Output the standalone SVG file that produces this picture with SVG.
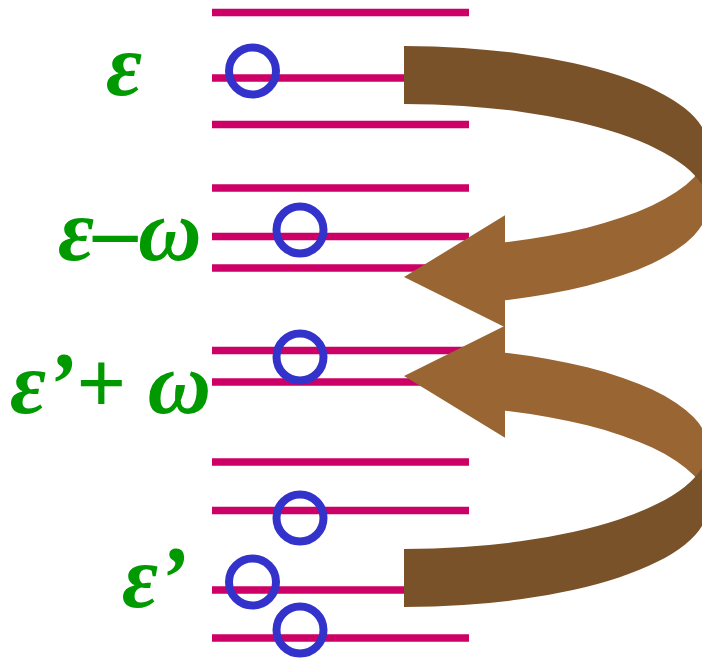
<svg xmlns="http://www.w3.org/2000/svg" width="702" height="659" viewBox="0 0 702 659">
<style>
.lvl{stroke:#CC0066;stroke-width:7.5;fill:none}
.el{fill:none;stroke:#3333CC;stroke-width:8}
.lbl{font-family:"Liberation Serif","Times New Roman",serif;font-style:italic;font-weight:bold;font-size:88px;fill:#009900}
.lt{fill:#996633}
.dk{fill:#7A5229}
</style>
<defs>
<g id="curved">
<path class="lt" d="M404,277 L505,215.3 L505,242.3 A304 101 0 0 0 708,147 L708,205 A304 101 0 0 1 505,300.3 L505,327.3 Z"/>
<path class="dk" d="M708,205 A304 101 0 0 0 404,104 L404,46 A304 101 0 0 1 708,147 Z"/>
</g>
</defs>
<g id="levels">
<line class="lvl" x1="212" y1="12.5" x2="469" y2="12.5"/>
<line class="lvl" x1="212" y1="78" x2="469" y2="78"/>
<line class="lvl" x1="212" y1="124.5" x2="469" y2="124.5"/>
<line class="lvl" x1="212" y1="188" x2="469" y2="188"/>
<line class="lvl" x1="212" y1="236.5" x2="469" y2="236.5"/>
<line class="lvl" x1="212" y1="268" x2="469" y2="268"/>
<line class="lvl" x1="212" y1="350.5" x2="469" y2="350.5"/>
<line class="lvl" x1="212" y1="382" x2="469" y2="382"/>
<line class="lvl" x1="212" y1="462" x2="469" y2="462"/>
<line class="lvl" x1="212" y1="510.5" x2="469" y2="510.5"/>
<line class="lvl" x1="212" y1="590" x2="469" y2="590"/>
<line class="lvl" x1="212" y1="638" x2="469" y2="638"/>
</g>
<g id="electrons">
<circle class="el" cx="252.5" cy="71" r="23.5"/>
<circle class="el" cx="300" cy="230" r="23.5"/>
<circle class="el" cx="300" cy="357" r="23.5"/>
<circle class="el" cx="300" cy="518" r="23.5"/>
<circle class="el" cx="252.5" cy="582" r="23.5"/>
<circle class="el" cx="300" cy="630" r="23.5"/>
</g>
<g id="connectors">
<use href="#curved"/>
<use href="#curved" transform="translate(0,653) scale(1,-1)"/>
</g>
<g id="label-eps"><text class="lbl" x="106" y="95">ε</text></g>
<g id="label-eps-minus-omega"><text class="lbl" x="58" y="260">ε–ω</text></g>
<g id="label-epsp-plus-omega"><text class="lbl" x="10" y="413">ε’+ ω</text></g>
<g id="label-epsp"><text class="lbl" x="122" y="607">ε’</text></g>
</svg>
